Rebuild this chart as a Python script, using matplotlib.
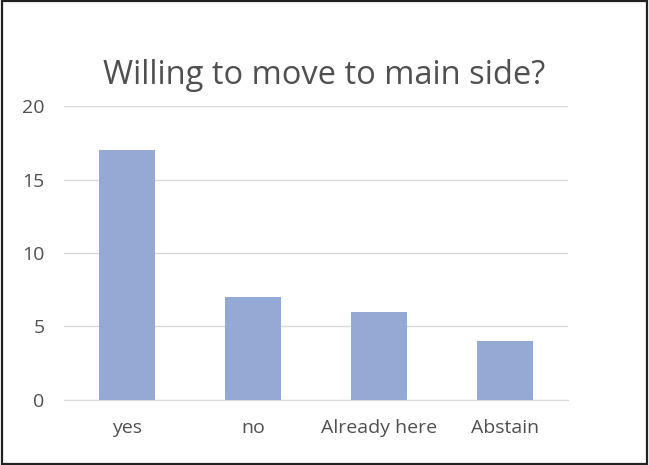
import matplotlib.pyplot as plt

categorias = ["yes", "no", "Already here", "Abstain"]
valores = [17, 7, 6, 4]
ticks_y = [0, 5, 10, 15, 20]

plt.rcParams['font.family'] = ['Open Sans', 'DejaVu Sans']

fig = plt.figure(figsize=(6.49, 4.65), dpi=100)
ax = fig.add_axes([0.0986, 0.1398, 0.7766, 0.6322])

x = range(len(categorias))
ax.bar(x, valores, width=0.45, color="#94A9D4", zorder=3)

ax.set_xlim(-0.5, len(categorias) - 0.5)
ax.set_ylim(0, 20)
ax.set_yticks(ticks_y)
ax.set_xticks(list(x))
ax.set_xticklabels(categorias)
ax.grid(axis="y", color="#D9D9D9", linewidth=1, zorder=0)

for s in ["top", "right", "left"]:
    ax.spines[s].set_visible(False)
ax.spines["bottom"].set_color("#D9D9D9")
ax.tick_params(axis="both", length=0, colors="#505050", labelsize=14)
ax.tick_params(axis="y", pad=14)
ax.tick_params(axis="x", pad=14)

fig.text(0.5, 0.838, "Willing to move to main side?", ha="center", va="center",
         fontsize=23.5, color="#505050")

# marco negro alrededor de la figura
fig.patches.append(plt.Rectangle((0.003, 0.003), 0.994, 0.994, transform=fig.transFigure,
                                 fill=False, edgecolor="#222222", linewidth=1.6))

fig.savefig("out.png", dpi=100)
